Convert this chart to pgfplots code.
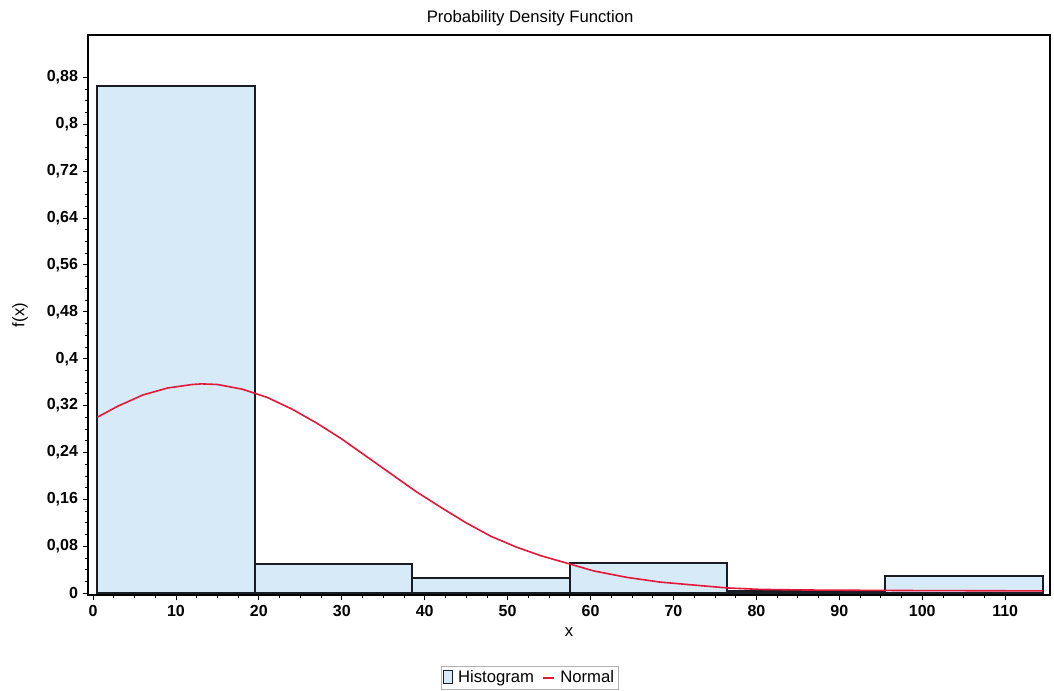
\documentclass[border=0pt]{standalone}
\usepackage{pgfplots}
\pgfplotsset{compat=1.18}
\usepackage{fontspec}
\setmainfont{Liberation Sans}
\definecolor{histfill}{RGB}{214,235,247}
\definecolor{histedge}{RGB}{25,28,35}
\definecolor{normred}{RGB}{228,22,58}
\begin{document}
\begin{tikzpicture}
\useasboundingbox (-66pt,-72pt) rectangle (724.5pt,446.25pt);
\begin{axis}[
  at={(0pt,0pt)}, anchor=south west,
  scale only axis,
  width=721.5pt, height=420pt,
  xmin=-0.6, xmax=115.4,
  ymin=-0.003, ymax=0.952,
  axis line style={line width=1.1pt, black},
  tick align=outside,
  tick pos=left,
  xtick={0,10,...,110},
  ytick={0,0.08,0.16,0.24,0.32,0.4,0.48,0.56,0.64,0.72,0.8,0.88},
  yticklabels={0,{0,08},{0,16},{0,24},{0,32},{0,4},{0,48},{0,56},{0,64},{0,72},{0,8},{0,88}},
  minor x tick num=3,
  minor y tick num=3,
  major tick length=4pt, minor tick length=2.5pt,
  tick style={black, line width=0.6pt},
  /pgf/number format/assume math mode=true,
  tick label style={font=\fontsize{12}{14}\selectfont\bfseries},
  every axis title shift=0pt,
  title={Probability Density Function},
  title style={font=\fontsize{12.5}{14}\selectfont, at={(axis description cs:0.4595,1.030)}, anchor=center},
  xlabel={x},
  ylabel={f(x)},
  label style={font=\fontsize{12.5}{14}\selectfont},
  xlabel style={at={(axis description cs:0.5,-0.066)}, anchor=center},
  ylabel style={at={(axis description cs:-0.0707,0.5)}, anchor=center},
  legend columns=2,
  legend style={at={(0.4595,-0.148)}, anchor=center, draw=gray!60, line width=0.5pt,
    font=\fontsize{12.5}{14}\selectfont, inner sep=1.5pt,
    /tikz/every odd column/.append style={column sep=2pt},
    /tikz/every even column/.append style={column sep=4pt}},
]
\addplot[ybar, bar width=19, bar shift=0, fill=histfill, draw=histedge, line width=1.5pt,
  legend image code/.code={\draw[fill=histfill, draw=histedge, line width=0.8pt] (0cm,-0.14cm) rectangle (0.22cm,0.2cm);}]
  coordinates {(10,0.865) (29,0.05) (48,0.026) (67,0.051) (86,0.004) (105,0.029)};
\addlegendentry{Histogram}
\addplot[normred, line width=1.2pt,
  legend image code/.code={\draw[normred, line width=1.2pt] (0cm,0cm) -- (0.3cm,0cm);}]
  coordinates {
  (0.5,0.300) (3,0.319) (6,0.338) (9,0.350) (12,0.356) (13.1,0.357) (15,0.356)
  (18,0.348) (21,0.334) (24,0.314) (27,0.290) (30,0.263) (33,0.233) (36,0.203)
  (39,0.173) (42,0.146) (45,0.120) (48,0.097) (51,0.079) (54,0.064) (57.2,0.051)
  (60.4,0.038) (64.4,0.027) (68.4,0.019) (72.4,0.014) (76.5,0.009) (80.5,0.0065)
  (86,0.0055) (92.5,0.005) (100,0.0045) (114.5,0.004)};
\addlegendentry{Normal}
\end{axis}
\end{tikzpicture}
\end{document}
